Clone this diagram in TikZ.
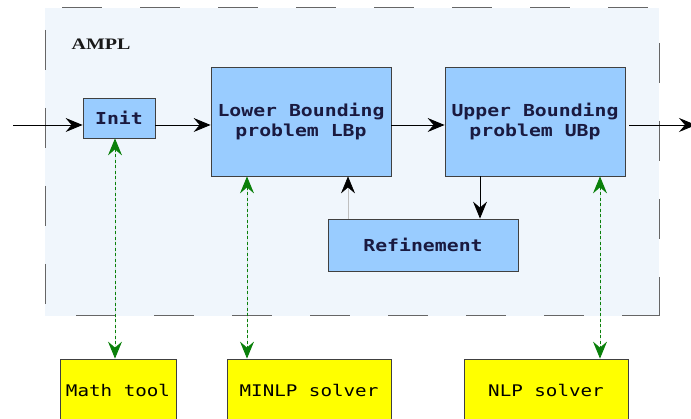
\documentclass[tikz,border=0pt]{standalone}
\usepackage{fontspec}
\usetikzlibrary{arrows.meta}
\newfontfamily\boxfont[FakeStretch=1.2]{DejaVu Sans Mono}
\newfontfamily\amplfont[FakeStretch=1.25]{Liberation Serif}
\definecolor{amplbg}{HTML}{F0F6FC}
\definecolor{stepblue}{HTML}{99CCFF}
\definecolor{solveryellow}{HTML}{FFFF00}
\definecolor{linkgreen}{HTML}{0A800A}
\definecolor{textnavy}{HTML}{1A1A40}

\begin{document}
\begin{tikzpicture}[x=1pt,y=-1pt,line width=0.9pt,
    -{Stealth[length=17pt,width=14pt,inset=6pt]},
    every node/.style = {draw=black!75, align=center, line width=0.8pt, inner sep=0pt},
    stepbox/.style = {fill=stepblue, text=textnavy, font=\boxfont\bfseries\fontsize{16.5}{19.5}\selectfont},
    solverbox/.style = {fill=solveryellow, text=black, font=\boxfont\fontsize{16}{19}\selectfont},
    frameline/.style = {-, draw=black!60, line width=1pt, dash pattern=on 40pt off 38pt},
    link/.style = {{Stealth[length=17pt,width=14pt,inset=6pt]}-{Stealth[length=17pt,width=14pt,inset=6pt]},
        draw=linkgreen, fill=linkgreen, dash pattern=on 3pt off 2.5pt, line width=1pt}]
    \clip (0,0) rectangle (691,419);
    \useasboundingbox (0,0) rectangle (691,419);

    % AMPL frame
    \fill[amplbg] (45,8) rectangle (659,316);
    \coordinate (tl) at (45,8);
    \coordinate (tr) at (659,8);
    \coordinate (bl) at (45,316);
    \coordinate (br) at (659,316);
    \draw[frameline, dash phase=61pt] (tl) -- (tr);
    \draw[frameline, dash phase=56pt] (tl) -- (bl);
    \draw[frameline, dash phase=47pt] (bl) -- (br);
    \draw[frameline, dash phase=43pt] (tr) -- (br);
    \node[draw=none, font=\amplfont\bfseries\fontsize{16}{19}\selectfont, text=black!90] (ampl) at (101,44) {AMPL};

    \node[stepbox, minimum width=72, minimum height=40] (init) at (119, 118) {Init};
    \node[stepbox, minimum width=180, minimum height=109] (lbp) at (301, 121.5) {Lower Bounding\\problem LBp};
    \node[stepbox, minimum width=180, minimum height=109] (ubp) at (535, 121.5) {Upper Bounding\\problem UBp};
    \node[stepbox, minimum width=190, minimum height=52] (ref) at (423, 245) {Refinement};

    \node[solverbox, minimum width=116, minimum height=62] (math) at (118, 390) {Math tool};
    \node[solverbox, minimum width=164, minimum height=62] (minlp) at (309, 390) {MINLP solver};
    \node[solverbox, minimum width=164, minimum height=62] (nlp) at (546, 390) {NLP solver};

    \coordinate (in) at (13, 125);
    \coordinate (out) at (696, 125);

    \draw (in) -- (in -| init.west);
    \draw (init.east |- in) -- (lbp.west |- in);
    \draw (lbp.east |- in) -- (ubp.west |- in);
    \draw ([xshift=4pt]ubp.east |- in) -- (out);
    \draw ([xshift=-55pt]ubp.south) -- ([xshift=-55pt]ubp.south |- ref.north);
    \draw[draw=black!25, line width=0.6pt, -{Stealth[black,length=17pt,width=14pt,inset=6pt]}]
        ([xshift=-75pt]ref.north) -- ([xshift=-75pt]ref.north |- lbp.south);

    % solver links
    \draw[link] ([xshift=-4pt]init.south) -- ([xshift=-4pt]init.south |- math.north);
    \draw[link] ([xshift=-54pt]lbp.south) -- ([xshift=-54pt]lbp.south |- minlp.north);
    \draw[link] ([xshift=65pt]ubp.south) -- ([xshift=65pt]ubp.south |- nlp.north);
\end{tikzpicture}
\end{document}
